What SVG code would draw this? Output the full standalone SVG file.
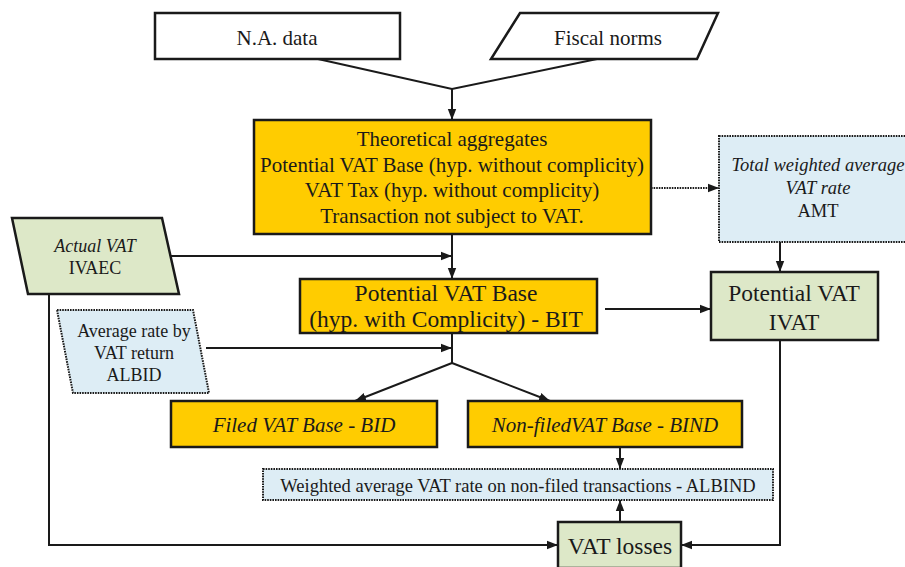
<svg xmlns="http://www.w3.org/2000/svg" width="905" height="567" viewBox="0 0 905 567">
  <style>
    text { font-family: 'Liberation Serif', 'Times New Roman', serif; fill: #1a1a1a; text-anchor: middle; }
    .box { stroke: #1a1a1a; stroke-width: 2.5; }
    .plain { fill: #ffffff; }
    .yellow { fill: #ffcc00; }
    .green { fill: #dde8c8; }
    .blue { fill: #ddedf5; stroke-dasharray: 1.6 1; stroke-width: 2; }
    .it { font-style: italic; }
    .wire { fill: none; stroke: #1a1a1a; stroke-width: 2; }
    .dot { stroke-dasharray: 1.6 1; }
  </style>
  <defs>
    <marker id="arrow" markerUnits="userSpaceOnUse" markerWidth="12" markerHeight="10" refX="11" refY="5" orient="auto">
      <path d="M0,0.8 L11,5 L0,9.2 Z" fill="#1a1a1a"/>
    </marker>
  </defs>

  <!-- connectors -->
  <g id="connectors">
    <polyline class="wire" points="318,59 452,89 597,59"/>
    <line class="wire" x1="452" y1="89" x2="452" y2="120" marker-end="url(#arrow)"/>
    <line class="wire" x1="452" y1="234" x2="452" y2="279" marker-end="url(#arrow)"/>
    <line class="wire" x1="170" y1="256" x2="452" y2="256" marker-end="url(#arrow)"/>
    <line class="wire dot" x1="651" y1="188" x2="719" y2="188" marker-end="url(#arrow)"/>
    <line class="wire" x1="780" y1="242" x2="780" y2="272" marker-end="url(#arrow)"/>
    <line class="wire" x1="605" y1="309" x2="711" y2="309" marker-end="url(#arrow)"/>
    <line class="wire" x1="452" y1="333" x2="452" y2="363"/>
    <line class="wire" x1="206" y1="348" x2="452" y2="348" marker-end="url(#arrow)"/>
    <line class="wire" x1="452" y1="363" x2="355" y2="401" marker-end="url(#arrow)"/>
    <line class="wire" x1="452" y1="363" x2="550" y2="401" marker-end="url(#arrow)"/>
    <line class="wire" x1="620" y1="447" x2="620" y2="469" marker-end="url(#arrow)"/>
    <line class="wire" x1="620" y1="522" x2="620" y2="500" marker-end="url(#arrow)"/>
    <polyline class="wire" points="49,294 49,545 558,545" marker-end="url(#arrow)"/>
    <polyline class="wire" points="780,340 780,545 681,545" marker-end="url(#arrow)"/>
  </g>

  <g id="na-data">
    <rect class="box plain" x="155" y="13" width="245" height="46"/>
    <text x="277" y="45" font-size="21">N.A. data</text>
  </g>

  <g id="fiscal-norms">
    <polygon class="box plain" points="520,13 718,13 697,59 491,59"/>
    <text x="608" y="45" font-size="21">Fiscal norms</text>
  </g>

  <g id="theoretical-aggregates">
    <rect class="box yellow" x="254" y="120" width="397" height="114"/>
    <text x="452" y="146" font-size="21">Theoretical aggregates</text>
    <text x="452" y="172" font-size="21">Potential VAT Base (hyp. without complicity)</text>
    <text x="452" y="197" font-size="21">VAT Tax (hyp. without complicity)</text>
    <text x="452" y="223" font-size="21">Transaction not subject to VAT.</text>
  </g>

  <g id="amt">
    <rect class="box blue" x="719" y="136" width="200" height="106"/>
    <text class="it" x="818" y="171" font-size="18.5">Total weighted average</text>
    <text class="it" x="818" y="194" font-size="18.5">VAT rate</text>
    <text x="818" y="217" font-size="18.5">AMT</text>
  </g>

  <g id="actual-vat">
    <polygon class="box green" points="12,218 162,218 179,294 28,294"/>
    <text class="it" x="95" y="252" font-size="18">Actual VAT</text>
    <text x="95" y="274" font-size="18">IVAEC</text>
  </g>

  <g id="bit">
    <rect class="box yellow" x="300" y="279" width="297" height="54"/>
    <text x="446" y="301" font-size="23.5">Potential VAT Base</text>
    <text x="446" y="327" font-size="23.5">(hyp. with Complicity) - BIT</text>
  </g>

  <g id="ivat">
    <rect class="box green" x="711" y="272" width="167" height="68"/>
    <text x="794" y="301" font-size="23.5">Potential VAT</text>
    <text x="794" y="330" font-size="23.5">IVAT</text>
  </g>

  <g id="albid">
    <polygon class="box blue" points="57,310 193,310 209,393 73,393"/>
    <text x="134" y="337" font-size="18">Average rate by</text>
    <text x="134" y="359" font-size="18">VAT return</text>
    <text x="134" y="381" font-size="18">ALBID</text>
  </g>

  <g id="bid">
    <rect class="box yellow" x="171" y="401" width="266" height="46"/>
    <text class="it" x="304" y="432" font-size="21">Filed VAT Base - BID</text>
  </g>

  <g id="bind">
    <rect class="box yellow" x="468" y="401" width="274" height="46"/>
    <text class="it" x="605" y="432" font-size="21">Non-filedVAT Base - BIND</text>
  </g>

  <g id="albind">
    <rect class="box blue" x="263" y="469" width="510" height="31"/>
    <text x="518" y="492" font-size="18.5">Weighted average VAT rate on non-filed transactions - ALBIND</text>
  </g>

  <g id="vat-losses">
    <rect class="box green" x="558" y="522" width="123" height="46"/>
    <text x="620" y="554" font-size="23.5">VAT losses</text>
  </g>
</svg>
